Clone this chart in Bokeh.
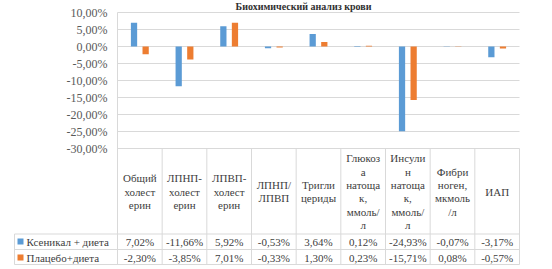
from bokeh.plotting import figure
from bokeh.models import Range1d
from bokeh.core.properties import value
from bokeh.embed import file_html
from bokeh.resources import INLINE

# ---- data ----
categories = [
    "Общий\nхолест\nерин",
    "ЛПНП-\nхолест\nерин",
    "ЛПВП-\nхолест\nерин",
    "ЛПНП/\nЛПВП",
    "Тригли\nцериды",
    "Глюкоз\nа\nнатоща\nк,\nммоль/\nл",
    "Инсули\nн\nнатоща\nк,\nммоль/\nл",
    "Фибри\nноген,\nмкмоль\n/л",
    "ИАП",
]
series_names = ["Ксеникал + диета", "Плацебо+диета"]
xenical = [7.02, -11.66, 5.92, -0.53, 3.64, 0.12, -24.93, -0.07, -3.17]
placebo = [-2.30, -3.85, 7.01, -0.33, 1.30, 0.23, -15.71, 0.08, -0.57]
y_ticks = [10, 5, 0, -5, -10, -15, -20, -25, -30]
title_text = "Биохимический анализ крови"

# ---- layout (pixels) ----
W, H = 552, 269
PL, PR = 117.0, 519.0        # plot area left / right
P_TOP, P_BOT = 12.0, 148.0   # y of 10% and -30%
CW = (PR - PL) / len(categories)
PX_PER = (P_BOT - P_TOP) / (y_ticks[0] - y_ticks[-1])
Y0PX = P_TOP + y_ticks[0] * PX_PER
ROW1, ROW2, ROW3 = 233.5, 249.0, 264.0
LEG_L = 14.0

def xd(px):
    return (px - PL) / CW - 0.5

def yd(py):
    return (Y0PX - py) / PX_PER

BLUE = "#5B9BD5"
ORANGE = "#ED7D31"
GRID = "#D9D9D9"
TXT = "#404040"
FONT = "'Liberation Serif', 'Times New Roman', serif"

p = figure(width=W, height=H, output_backend="svg", toolbar_location=None,
           x_range=Range1d(xd(0), xd(W)), y_range=Range1d(yd(H), yd(0)),
           min_border=0, x_axis_location=None, y_axis_location=None)
p.xgrid.visible = False
p.ygrid.visible = False
p.outline_line_color = None
p.background_fill_color = "white"
p.border_fill_color = "white"

n = len(categories)
idx = list(range(n))

# gridlines
p.segment(x0=[xd(PL)] * len(y_ticks), x1=[xd(PR)] * len(y_ticks),
          y0=y_ticks, y1=y_ticks, line_color=GRID, line_width=1)

# vertical lines: axis + table column borders
xs_b = [xd(PL + k * CW) for k in range(n + 1)]
p.segment(x0=[xs_b[0]], x1=[xs_b[0]], y0=[yd(P_TOP)], y1=[yd(ROW3)],
          line_color=GRID, line_width=1)
p.segment(x0=xs_b[1:], x1=xs_b[1:], y0=[yd(P_BOT)] * n, y1=[yd(ROW3)] * n,
          line_color=GRID, line_width=1)
# horizontal table borders
for r in (ROW1, ROW2, ROW3):
    p.segment(x0=[xd(LEG_L)], x1=[xd(PR)], y0=[yd(r)], y1=[yd(r)],
              line_color=GRID, line_width=1)
p.segment(x0=[xd(LEG_L)], x1=[xd(LEG_L)], y0=[yd(ROW1)], y1=[yd(ROW3)],
          line_color=GRID, line_width=1)

# bars
bw = 0.14
off = 0.13
p.vbar(x=[i - off for i in idx], top=xenical, bottom=0, width=bw,
       fill_color=BLUE, line_color=None)
p.vbar(x=[i + off for i in idx], top=placebo, bottom=0, width=bw,
       fill_color=ORANGE, line_color=None)

# y tick labels
def pct(v, dec=2):
    s = f"{v:.{dec}f}".replace(".", ",")
    return s + "%"

p.text(x=[xd(107)] * len(y_ticks), y=y_ticks, text=[pct(t) for t in y_ticks],
       text_align="right", text_baseline="middle", text_font=value(FONT),
       text_font_size="12px", text_color="#595959")

# title
p.text(x=[xd(303)], y=[yd(6)], text=[title_text], text_align="center",
       text_baseline="middle", text_font=value(FONT), text_font_size="10px",
       text_font_style="bold", text_color="#303030")

# header category labels
p.text(x=idx, y=[yd((P_BOT + ROW1) / 2 + 0.5)] * n, text=categories,
       text_align="center", text_baseline="middle", text_font=value(FONT),
       text_font_size="11px", text_line_height=1.12, text_color=TXT)

# table values
p.text(x=idx, y=[yd(241)] * n, text=[pct(v) for v in xenical],
       text_align="center", text_baseline="middle", text_font=value(FONT),
       text_font_size="11px", text_color=TXT)
p.text(x=idx, y=[yd(257)] * n, text=[pct(v) for v in placebo],
       text_align="center", text_baseline="middle", text_font=value(FONT),
       text_font_size="11px", text_color=TXT)

# legend keys in table
p.rect(x=[xd(20)] * 2, y=[yd(241), yd(257)], width=6 / CW, height=6 / PX_PER,
       fill_color=[BLUE, ORANGE], line_color=None)
p.text(x=[xd(26)] * 2, y=[yd(241), yd(257)], text=series_names,
       text_align="left", text_baseline="middle", text_font=value(FONT),
       text_font_size="11px", text_color=TXT)

open("out.html", "w").write(file_html(p, INLINE))
